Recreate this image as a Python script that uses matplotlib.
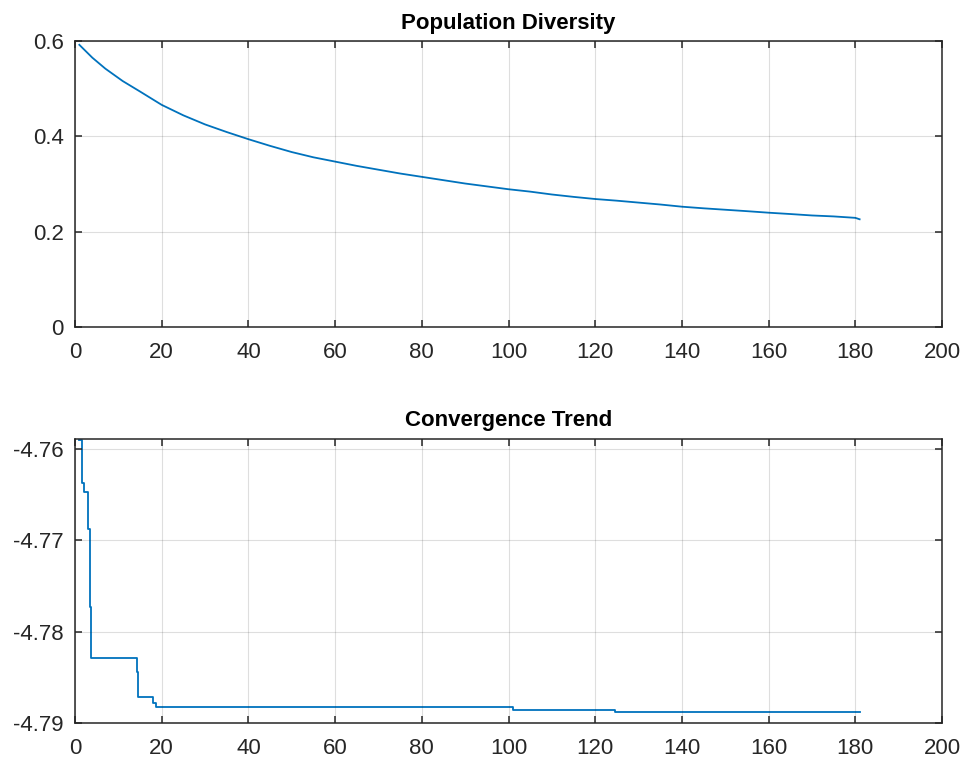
import numpy as np
import matplotlib
matplotlib.use("Agg")
import matplotlib.pyplot as plt

plt.rcParams['font.family'] = ['Liberation Sans', 'DejaVu Sans']

# ---- data ----
div_iter = [1, 4, 7, 11, 15, 20, 25, 30, 35, 40, 45, 50, 55, 60, 65, 70, 75, 80, 85, 90,
            95, 100, 105, 110, 115, 120, 125, 130, 135, 140, 145, 150, 155, 160, 165,
            170, 175, 180, 181]
div_val = [0.592, 0.565, 0.542, 0.516, 0.494, 0.466, 0.444, 0.425, 0.409, 0.394, 0.380,
           0.367, 0.356, 0.347, 0.338, 0.330, 0.322, 0.315, 0.308, 0.301, 0.295, 0.289,
           0.284, 0.278, 0.273, 0.2685, 0.265, 0.261, 0.257, 0.2524, 0.249, 0.246,
           0.243, 0.2398, 0.237, 0.234, 0.232, 0.229, 0.226]

conv_iter = [1, 1.5, 2.1, 2.9, 3.5, 3.8, 14.2, 14.6, 18.0, 18.6, 101, 124.6, 181]
conv_val = [-4.7590, -4.7637, -4.7647, -4.7688, -4.7773, -4.7829, -4.7844, -4.7872,
            -4.7878, -4.7883, -4.7886, -4.7888, -4.7888]

xticks = [0, 20, 40, 60, 80, 100, 120, 140, 160, 180, 200]
top_yticks = [0, 0.2, 0.4, 0.6]
bot_yticks = [-4.79, -4.78, -4.77, -4.76]

W, H = 967, 765
fig = plt.figure(figsize=(W / 100, H / 100), dpi=100)

line_color = '#0072BD'
ax_color = '#262626'
fs = 16


def setup(ax):
    for s in ax.spines.values():
        s.set_color(ax_color)
        s.set_linewidth(1.1)
    ax.tick_params(direction='in', length=5, width=1.1, colors=ax_color,
                   labelsize=fs, top=True, right=True)
    ax.tick_params(axis='x', pad=11)
    ax.tick_params(axis='y', pad=8)
    ax.grid(True, color='#262626', alpha=0.15, linewidth=0.8)
    ax.set_axisbelow(False)
    ax.set_xlim(0, 200)
    ax.set_xticks(xticks)
    ax.set_xticklabels([str(v) for v in xticks])


ax1 = fig.add_axes([75 / W, 1 - 327 / H, 867 / W, 286 / H])
setup(ax1)
ax1.plot(div_iter, div_val, color=line_color, linewidth=1.3)
ax1.set_ylim(0, 0.6)
ax1.set_yticks(top_yticks)
ax1.set_yticklabels(['0', '0.2', '0.4', '0.6'])
ax1.set_title('Population Diversity', fontsize=fs, fontweight='bold', color='black', pad=9)

ax2 = fig.add_axes([75 / W, 1 - 723 / H, 867 / W, 284 / H])
setup(ax2)
ax2.plot(conv_iter, conv_val, color=line_color, linewidth=1.3, drawstyle='steps-post')
ax2.set_ylim(-4.79, -4.7589)
ax2.set_yticks(bot_yticks)
ax2.set_yticklabels(['-4.79', '-4.78', '-4.77', '-4.76'])
ax2.set_title('Convergence Trend', fontsize=fs, fontweight='bold', color='black', pad=9)

fig.savefig('out.png', dpi=100, facecolor='white')
